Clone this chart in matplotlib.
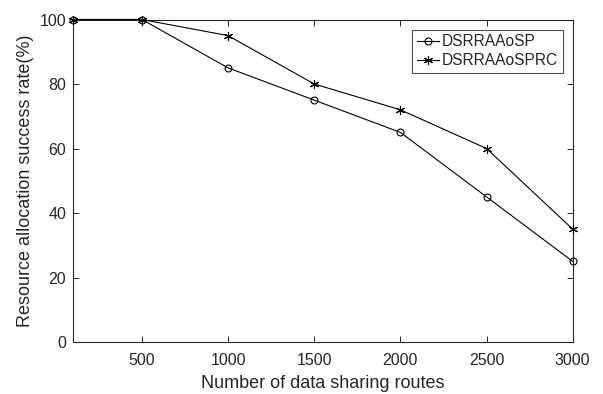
import matplotlib
matplotlib.use("Agg")
import matplotlib.pyplot as plt

plt.rcParams['font.family'] = ['Liberation Sans', 'DejaVu Sans']

x = [100, 500, 1000, 1500, 2000, 2500, 3000]
sp = [100, 100, 85, 75, 65, 45, 25]
sprc = [100, 100, 95, 80, 72, 60, 35]
xticks = [500, 1000, 1500, 2000, 2500, 3000]
yticks = [0, 20, 40, 60, 80, 100]

fig = plt.figure(figsize=(6.03, 3.94), dpi=100)
ax = fig.add_axes([73/603, 1-342/394, (572.7-73)/603, (342-19.5)/394])
ax.plot(x, sp, color='black', lw=0.8, marker='o', ms=5, mfc='none', mew=0.8, label='DSRRAAoSP', clip_on=False, zorder=3)
ax.plot(x, sprc, color='black', lw=0.8, marker=(6, 2, 0), ms=6.5, mew=0.8, label='DSRRAAoSPRC', clip_on=False, zorder=3)
ax.set_xlim(100, 3000)
ax.set_ylim(0, 100)
ax.set_xticks(xticks)
ax.set_yticks(yticks)
tc = '#262626'
ax.tick_params(direction='in', top=True, right=True, labelsize=11.5, colors=tc, length=4, width=0.7)
ax.tick_params(axis='x', pad=8)
ax.tick_params(axis='y', pad=5)
for s in ax.spines.values():
    s.set_linewidth(0.8)
    s.set_color(tc)
ax.set_xlabel('Number of data sharing routes', fontsize=13, color=tc, labelpad=5)
ax.set_ylabel('Resource allocation success rate(%)', fontsize=13, color=tc, labelpad=4)
leg = ax.legend(loc='upper right', bbox_to_anchor=(0.98, 0.968), fontsize=11.2, frameon=True, fancybox=False,
                edgecolor=tc, handlelength=1.4, handletextpad=0.2, borderpad=0.3, labelspacing=0.25, borderaxespad=0)
leg.get_frame().set_linewidth(0.8)
for t in leg.get_texts():
    t.set_color(tc)
fig.savefig('out.png', dpi=100)
